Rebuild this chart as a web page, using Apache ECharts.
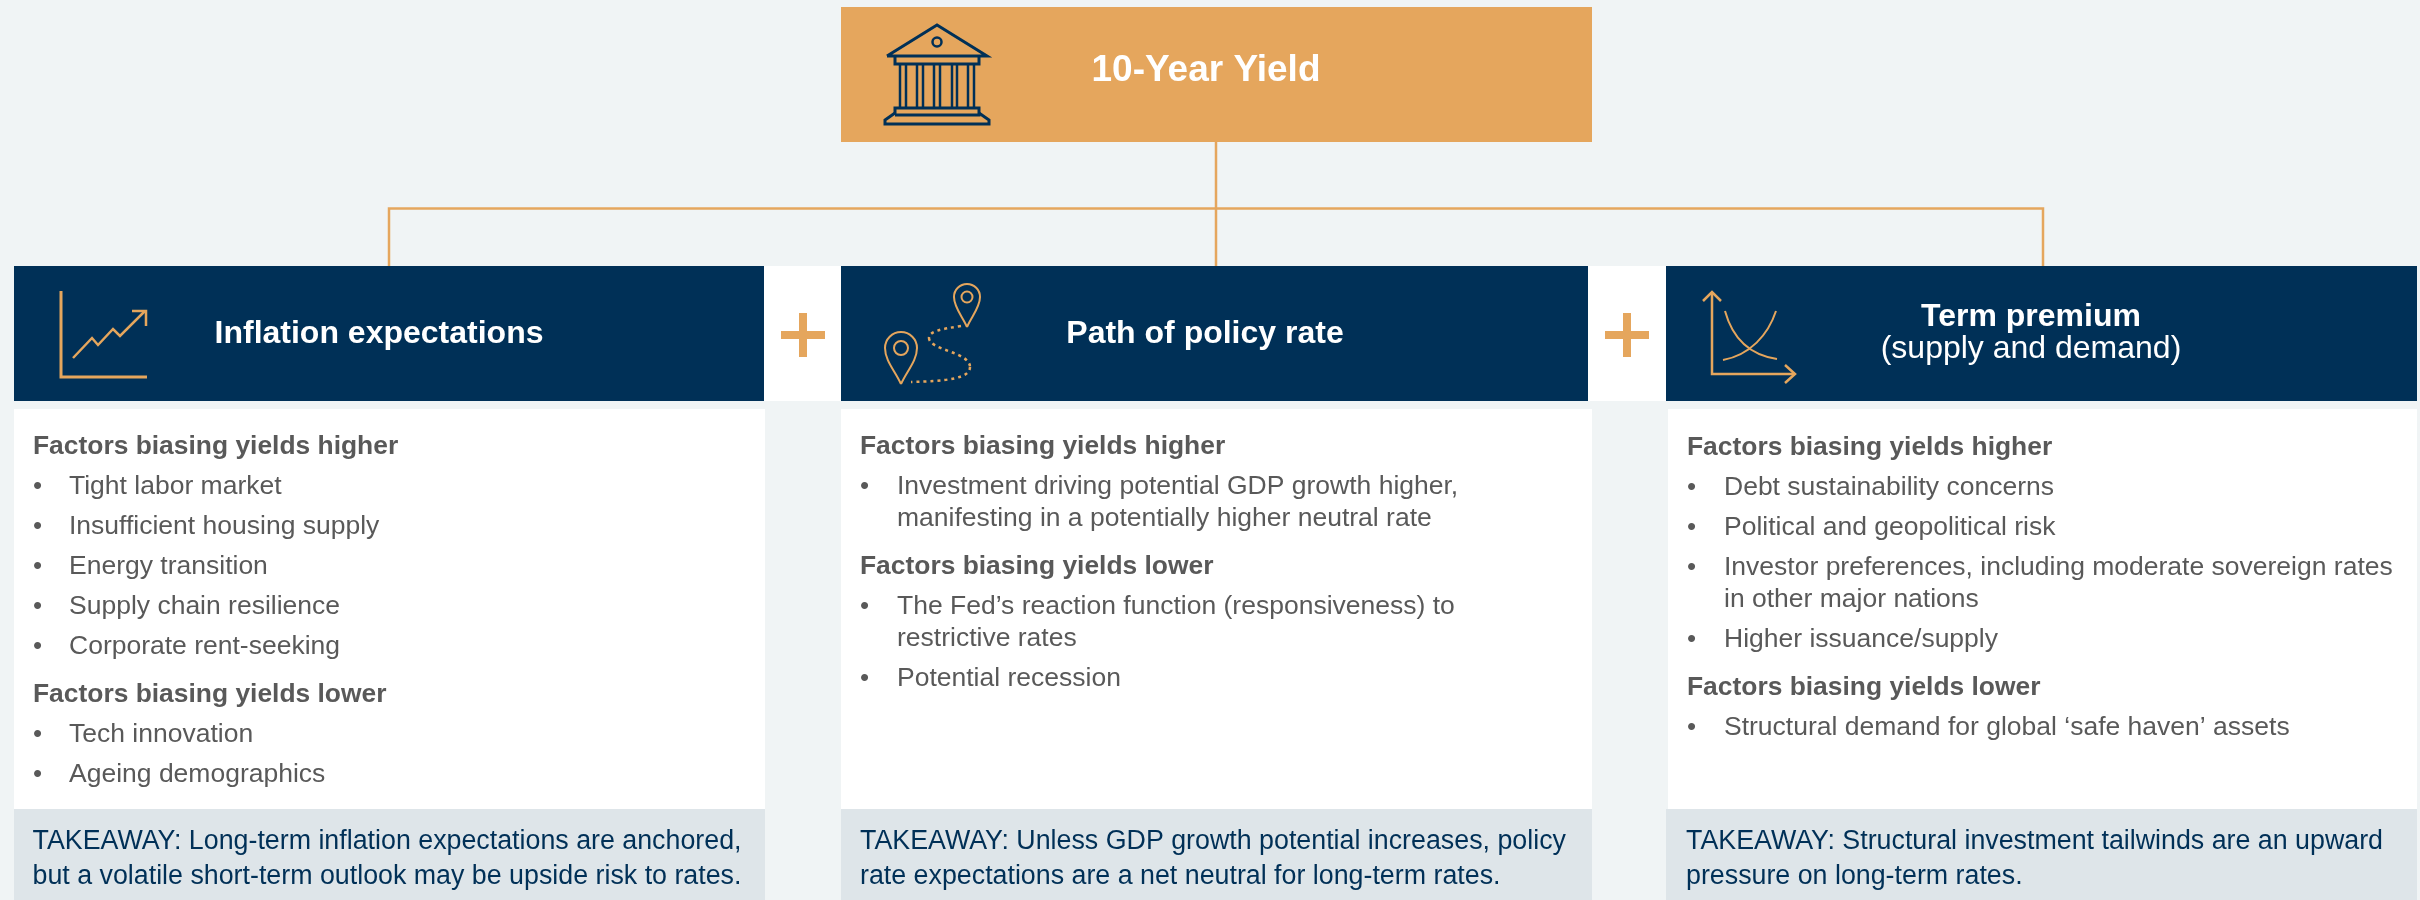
<!DOCTYPE html>
<html>
<head>
<meta charset="utf-8">
<style>html,body{margin:0;padding:0;background:#f0f4f5}#main{width:2420px;height:900px}</style>
<script src="https://cdn.jsdelivr.net/npm/echarts@6/dist/echarts.min.js"></script>
</head>
<body>
<div id="main"></div>
<script>
var topTitle = "10-Year Yield";
var columnTitles = [["Inflation expectations"], ["Path of policy rate"], ["Term premium", "(supply and demand)"]];
var higherFactors = [
  [["Tight labor market"], ["Insufficient housing supply"], ["Energy transition"], ["Supply chain resilience"], ["Corporate rent-seeking"]],
  [["Investment driving potential GDP growth higher,", "manifesting in a potentially higher neutral rate"]],
  [["Debt sustainability concerns"], ["Political and geopolitical risk"], ["Investor preferences, including moderate sovereign rates", "in other major nations"], ["Higher issuance/supply"]]
];
var lowerFactors = [
  [["Tech innovation"], ["Ageing demographics"]],
  [["The Fed\u2019s reaction function (responsiveness) to", "restrictive rates"], ["Potential recession"]],
  [["Structural demand for global \u2018safe haven\u2019 assets"]]
];
var takeaways = [
  ["TAKEAWAY: Long-term inflation expectations are anchored,", "but a volatile short-term outlook may be upside risk to rates."],
  ["TAKEAWAY: Unless GDP growth potential increases, policy", "rate expectations are a net neutral for long-term rates."],
  ["TAKEAWAY: Structural investment tailwinds are an upward", "pressure on long-term rates."]
];

var NAVY = "#003057", ORANGE = "#e5a65d", GREY = "#595959", PALE = "#dee5e9";
var FONT = '"Liberation Sans", Arial, sans-serif';
var els = [];

function rect(x, y, w, h, fill) {
  els.push({ type: "rect", shape: { x: x, y: y, width: w, height: h }, style: { fill: fill } });
}
function text(s, x, y, size, color, bold, align) {
  els.push({ type: "text", x: x, y: y, style: {
    text: s, fill: color, font: (bold ? "bold " : "") + size + "px " + FONT,
    textAlign: align || "left", textVerticalAlign: "middle" } });
}
function stroke(points, color, width) {
  els.push({ type: "polyline", shape: { points: points }, style: { stroke: color, fill: null, lineWidth: width } });
}
function curve(p, color, width, dash) {
  els.push({ type: "bezierCurve",
    shape: { x1: p[0], y1: p[1], cpx1: p[2], cpy1: p[3], cpx2: p[4], cpy2: p[5], x2: p[6], y2: p[7] },
    style: { stroke: color, fill: null, lineWidth: width, lineDash: dash || null } });
}
function ring(cx, cy, r, color, width) {
  els.push({ type: "circle", shape: { cx: cx, cy: cy, r: r }, style: { stroke: color, fill: null, lineWidth: width } });
}
function pin(cx, cy, r, tipY, hole) {
  // open arc over the top, two sides running down to the tip
  els.push({ type: "arc", shape: { cx: cx, cy: cy, r: r, startAngle: Math.PI, endAngle: 0, clockwise: true },
    style: { stroke: ORANGE, fill: null, lineWidth: 2 } });
  var h = tipY - cy;
  curve([cx - r, cy, cx - r, cy + h * 0.35, cx - r * 0.35, cy + h * 0.65, cx, tipY], ORANGE, 2);
  curve([cx + r, cy, cx + r, cy + h * 0.35, cx + r * 0.35, cy + h * 0.65, cx, tipY], ORANGE, 2);
  ring(cx, cy, hole, ORANGE, 2);
}

// top box and connectors
rect(841, 7, 751, 135, ORANGE);
text(topTitle, 1206, 71, 37, "#fff", true, "center");
stroke([[1216, 142], [1216, 266]], ORANGE, 2.5);
stroke([[389, 266], [389, 208.5], [2043, 208.5], [2043, 266]], ORANGE, 2.5);

// columns: white header strips behind the plus signs
rect(764, 266, 77, 135, "#fff");
rect(1588, 266, 78, 135, "#fff");

var headerBox = [[14, 750], [841, 747], [1666, 751]];
var panelBox = [[14, 751], [841, 751], [1668, 749]];
var takeawayBox = [[14, 751], [841, 751], [1666, 751]];
var sectionX = [33, 860, 1687], itemX = [69, 897, 1724], takeX = [32.5, 860, 1686];
var startY = [447, 447, 448];
var titleX = [379, 1205, 2031];

function section(c, label, items, y) {
  text(label, sectionX[c], y, 26.4, GREY, true);
  items.forEach(function (lines) {
    y += 40;
    text("\u2022", sectionX[c], y, 26, GREY, false);
    lines.forEach(function (line, j) {
      if (j > 0) y += 32;
      text(line, itemX[c], y, 26.5, GREY, false);
    });
  });
  return y;
}

for (var c = 0; c < 3; c++) {
  rect(headerBox[c][0], 266, headerBox[c][1], 135, NAVY);
  rect(panelBox[c][0], 409, panelBox[c][1], 400, "#fff");
  rect(takeawayBox[c][0], 809, takeawayBox[c][1], 91, PALE);
  if (columnTitles[c].length === 1) {
    text(columnTitles[c][0], titleX[c], 334, 32, "#fff", true, "center");
  } else {
    text(columnTitles[c][0], titleX[c], 317, 32, "#fff", true, "center");
    text(columnTitles[c][1], titleX[c], 349, 32, "#fff", false, "center");
  }
  var y = section(c, "Factors biasing yields higher", higherFactors[c], startY[c]);
  section(c, "Factors biasing yields lower", lowerFactors[c], y + 48);
  text(takeaways[c][0], takeX[c], 842, 26.8, NAVY, false);
  text(takeaways[c][1], takeX[c], 876.5, 26.8, NAVY, false);
}

// plus signs
[803, 1627].forEach(function (cx) {
  rect(cx - 22, 331, 44, 8, ORANGE);
  rect(cx - 4, 313, 8, 44, ORANGE);
});

// bank icon
stroke([[887, 56], [937, 25], [987, 56], [887, 56]], NAVY, 3);
ring(937, 42, 4.5, NAVY, 2.5);
stroke([[895, 57], [895, 64], [979, 64], [979, 57]], NAVY, 3);
[900, 906, 917, 923, 934, 940, 952, 957, 968, 974].forEach(function (x) {
  stroke([[x, 64], [x, 108]], NAVY, 2.5);
});
stroke([[895, 115], [895, 108], [979, 108], [979, 115], [895, 115]], NAVY, 3);
stroke([[895, 113], [885, 120], [885, 124], [989, 124], [989, 120], [979, 113]], NAVY, 3);

// rising line icon
stroke([[61, 291], [61, 377], [147, 377]], ORANGE, 3);
stroke([[73, 358], [92, 338], [98, 345], [113, 329], [120, 336], [145, 311]], ORANGE, 2.5);
stroke([[132, 311], [146, 311], [146, 326]], ORANGE, 2.5);

// map pins icon
pin(967, 297, 13, 327, 5.5);
pin(901, 348, 16, 384, 7);
curve([961, 326, 942, 329, 929, 331, 929, 338], ORANGE, 2.5, [3, 4]);
curve([929, 338, 929, 350, 970, 352, 970, 367], ORANGE, 2.5, [3, 4]);
curve([970, 367, 970, 379, 945, 381, 911, 382], ORANGE, 2.5, [3, 4]);

// supply and demand icon
stroke([[1712, 292], [1712, 374], [1795, 374]], ORANGE, 2.5);
stroke([[1703, 301], [1712, 292], [1721, 301]], ORANGE, 2.5);
stroke([[1785, 365], [1795, 374], [1785, 383]], ORANGE, 2.5);
curve([1725, 311, 1733, 340, 1750, 355, 1777, 359], ORANGE, 2);
curve([1723, 360, 1750, 355, 1768, 335, 1776, 311], ORANGE, 2);

var chart = echarts.init(document.getElementById("main"), null, { renderer: "canvas" });
chart.setOption({ backgroundColor: "#f0f4f5", animation: false, graphic: { elements: els } });
</script>
</body>
</html>
